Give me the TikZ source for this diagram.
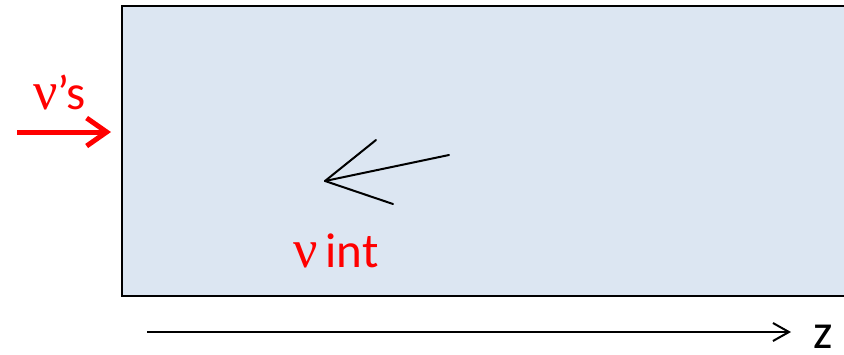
\documentclass[tikz,border=0pt]{standalone}
\usepackage{fontspec}
\setmainfont{Carlito}
\newfontfamily\nufont{Liberation Serif}
\usetikzlibrary{arrows.meta}
\definecolor{boxfill}{HTML}{DCE6F2}
\tikzset{
  lbl/.style={inner sep=0pt, anchor=base west, font=\fontsize{49}{56}\selectfont},
  redarrow/.style={draw=red, line width=5pt, -{Straight Barb[length=20pt,width=28pt,line width=5pt]}},
  zarrow/.style={draw=black, line width=2pt, -{Straight Barb[length=16pt,width=18pt,line width=2pt]}},
  ray/.style={draw=black, line width=2pt, line cap=round}
}
\begin{document}
\begin{tikzpicture}[x=1pt,y=-1pt]
\useasboundingbox (0,0) rectangle (844,354);
\begin{scope}
\clip (0,0) rectangle (844,354);
\node[draw=black, line width=2pt, fill=boxfill, minimum width=740pt, minimum height=290pt, inner sep=0pt, anchor=north west] (slab) at (121,4.5) {};
\end{scope}
% incoming neutrinos
\coordinate (nusrc) at (17,132);
\coordinate (nuend) at (111,132);
\draw[redarrow] (nusrc) -- (nuend);
\node[lbl, text=red] (nulbl) at (33,109) {{\nufont\fontsize{54}{60}\selectfont ν}’s};
% interaction vertex
\coordinate (vtx) at (325,181);
\coordinate (r1) at (376,140);
\coordinate (r2) at (449,155);
\coordinate (r3) at (393,204);
\draw[ray] (vtx) -- (r1);
\draw[ray] (vtx) -- (r2);
\draw[ray] (vtx) -- (r3);
\node[lbl, text=red] (intlbl) at (293,267) {{\nufont\fontsize{54}{60}\selectfont ν}\hspace{8pt}int};
% z axis
\coordinate (zsrc) at (147,332);
\coordinate (zend) at (791,332);
\draw[zarrow] (zsrc) -- (zend);
\node[lbl, text=black] (zlbl) at (813,348) {z};
\end{tikzpicture}
\end{document}
